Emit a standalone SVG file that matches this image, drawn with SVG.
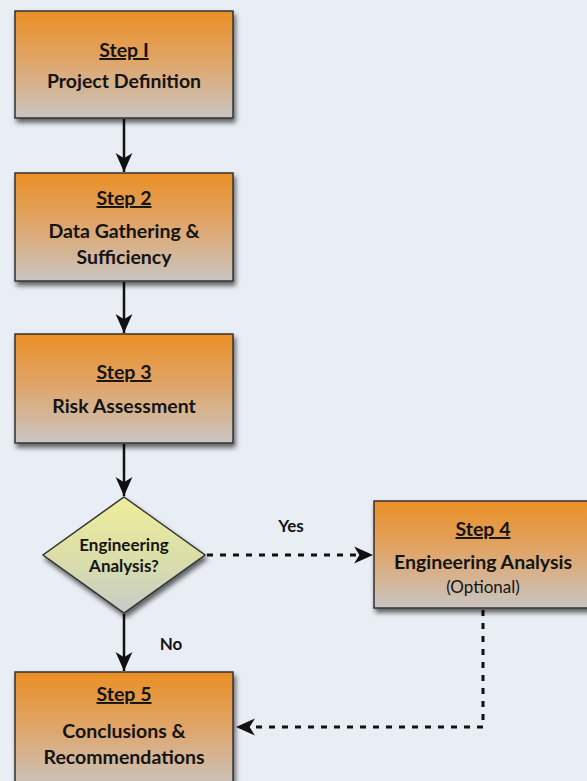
<svg xmlns="http://www.w3.org/2000/svg" width="587" height="781" viewBox="0 0 587 781">
<defs>
<linearGradient id="boxg" x1="0" y1="0" x2="0" y2="1">
<stop offset="0" stop-color="#EA8F25"/>
<stop offset="0.45" stop-color="#E0A466"/>
<stop offset="1" stop-color="#C9C5C2"/>
</linearGradient>
<linearGradient id="diag" x1="0" y1="0" x2="0" y2="1">
<stop offset="0" stop-color="#EEEE9A"/>
<stop offset="0.5" stop-color="#DCDFA8"/>
<stop offset="1" stop-color="#C6CCC8"/>
</linearGradient>
<filter id="sh" x="-10%" y="-10%" width="130%" height="130%">
<feGaussianBlur in="SourceAlpha" stdDeviation="2.5"/>
<feOffset dx="2" dy="4"/>
<feComponentTransfer><feFuncA type="linear" slope="0.6"/></feComponentTransfer>
<feMerge><feMergeNode/><feMergeNode in="SourceGraphic"/></feMerge>
</filter>
<marker id="ah" viewBox="0 0 20 20" refX="18" refY="10" markerWidth="21" markerHeight="21" markerUnits="userSpaceOnUse" orient="auto">
<path d="M0,2 L18,10 L0,18 L5,10 Z" fill="#111"/>
</marker>
</defs>
<style>
.box{fill:url(#boxg);stroke:#333;stroke-width:1.5;filter:url(#sh)}
.dia{fill:url(#diag);stroke:#333;stroke-width:1.5;filter:url(#sh)}
.t{font-family:Lato,"Open Sans","Liberation Sans",sans-serif;font-weight:bold;font-size:19.5px;fill:#141414;text-anchor:middle}
.h{text-decoration:underline}
.s{font-size:17px}
.o{font-weight:normal;font-size:17px}
.ln{stroke:#111;stroke-width:2.5;fill:none}
.dl{stroke:#111;stroke-width:3;fill:none;stroke-dasharray:6 7}
</style>
<rect width="587" height="781" fill="#E9EEF4"/>
<g id="connectors">
<line class="ln" x1="124" y1="119" x2="124" y2="172" marker-end="url(#ah)"/>
<line class="ln" x1="124" y1="282" x2="124" y2="333" marker-end="url(#ah)"/>
<line class="ln" x1="124" y1="444" x2="124" y2="496" marker-end="url(#ah)"/>
<line class="ln" x1="124" y1="614" x2="124" y2="671" marker-end="url(#ah)"/>
<path class="dl" d="M207,555 H373" marker-end="url(#ah)"/>
<path class="dl" d="M483,610 V727 H236" marker-end="url(#ah)"/>
<text class="t s" x="291" y="532">Yes</text>
<text class="t s" x="171" y="650">No</text>
</g>
<g id="step1">
<rect class="box" x="15" y="11" width="218" height="107"/>
<text class="t h" x="124" y="57">Step I</text>
<text class="t" x="124" y="88">Project Definition</text>
</g>
<g id="step2">
<rect class="box" x="15" y="173" width="218" height="108"/>
<text class="t h" x="124" y="205">Step 2</text>
<text class="t" x="124" y="238">Data Gathering &amp;</text>
<text class="t" x="124" y="264">Sufficiency</text>
</g>
<g id="step3">
<rect class="box" x="15" y="334" width="218" height="109"/>
<text class="t h" x="124" y="379">Step 3</text>
<text class="t" x="124" y="413">Risk Assessment</text>
</g>
<g id="decision">
<polygon class="dia" points="124,497 205,555 124,613 43,555"/>
<text class="t s" x="124" y="551">Engineering</text>
<text class="t s" x="124" y="572">Analysis?</text>
</g>
<g id="step4">
<rect class="box" x="374" y="501" width="218" height="107"/>
<text class="t h" x="483" y="536">Step 4</text>
<text class="t" x="483" y="569">Engineering Analysis</text>
<text class="t o" x="483" y="593">(Optional)</text>
</g>
<g id="step5">
<rect class="box" x="15" y="672" width="218" height="118"/>
<text class="t h" x="124" y="701">Step 5</text>
<text class="t" x="124" y="738">Conclusions &amp;</text>
<text class="t" x="124" y="764">Recommendations</text>
</g>
</svg>
